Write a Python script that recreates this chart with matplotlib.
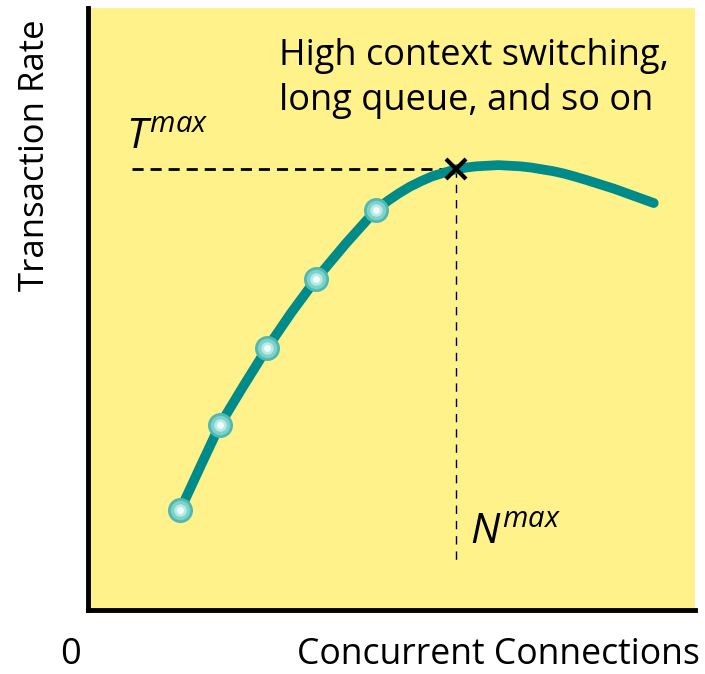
import matplotlib.pyplot as plt

# curve (x: connections, y: transaction rate, 0-100 scale)
curve_x = [15.2, 18.5, 21.7, 25.6, 29.5, 33.5, 37.6, 42.5, 47.4, 49.3, 51.2, 53.0, 54.8, 56.6, 58.5, 60.6,
           62.3, 64.0, 65.8, 67.6, 69.4, 71.2, 73.0, 74.8, 76.6, 78.4, 80.2, 82.2, 84.4, 86.6, 88.8, 91.0, 93.2]
curve_y = [16.6, 23.8, 30.7, 37.2, 43.5, 49.4, 55.0, 60.9, 66.4, 67.9, 69.2, 70.3, 71.2, 72.0, 72.6, 73.2,
           73.5, 73.7, 73.8, 73.9, 73.8, 73.7, 73.5, 73.2, 72.9, 72.5, 72.0, 71.4, 70.7, 70.0, 69.2, 68.4, 67.6]

# sampled points (markers)
pts_x = [15.2, 21.7, 29.5, 37.6, 47.4]
pts_y = [16.6, 30.7, 43.5, 55.0, 66.4]

# maximum point
n_max = 60.6
t_max = 73.2

yellow = '#fff28a'
teal = '#008b8b'

font = 'Open Sans'
plt.rcParams['mathtext.fontset'] = 'custom'
plt.rcParams['mathtext.it'] = font + ':italic'
plt.rcParams['mathtext.rm'] = font

fig = plt.figure(figsize=(7.05, 6.74), dpi=100)
ax = fig.add_axes([88 / 705, 64 / 674, 607 / 705, 602 / 674])
ax.set_facecolor(yellow)
ax.set_xlim(0, 100)
ax.set_ylim(0, 100)

ax.plot(curve_x, curve_y, color=teal, lw=7, solid_capstyle='round', solid_joinstyle='round', zorder=2)
# markers: layered circles to mimic the shaded balls
ax.plot(pts_x, pts_y, 'o', ms=18, mfc='#4fb9b1', mec='none', zorder=3)
ax.plot(pts_x, pts_y, 'o', ms=14, mfc='#7fd2ca', mec='none', zorder=4)
ax.plot(pts_x, pts_y, 'o', ms=9, mfc='#b9eae4', mec='none', zorder=5)
ax.plot(pts_x, pts_y, 'o', ms=5, mfc='#f0fdfb', mec='none', zorder=6)

# guides to the maximum
ax.plot([7.3, n_max], [t_max, t_max], color='black', lw=2, ls=(0, (4, 2.5)), zorder=1)
ax.plot([n_max, n_max], [t_max, 8.3], color='black', lw=1, ls=(0, (6, 5)), zorder=1)
ax.plot([n_max], [t_max], 'x', color='black', ms=14, mew=3, zorder=7)

ax.text(6.3, 76.5, r'$T^{max}$', fontsize=30)
ax.text(63.0, 11.0, r'$N^{max}$', fontsize=30)
ax.text(31.5, 88.3, 'High context switching,\nlong queue, and so on', fontsize=26,
        family=font, linespacing=1.32, va='center')

ax.set_xticks([])
ax.set_yticks([])
for s in ['top', 'right']:
    ax.spines[s].set_visible(False)
for s in ['left', 'bottom']:
    ax.spines[s].set_linewidth(3.5)

fig.text(70 / 705, 1 - 655 / 674, '0', fontsize=26, family=font, ha='center', va='center')
fig.text(700 / 705, 1 - 655 / 674, 'Concurrent Connections', fontsize=25.6, family=font, ha='right', va='center')
fig.text(35 / 705, 1 - 155 / 674, 'Transaction Rate', fontsize=25, family=font, rotation=90, ha='center', va='center')

fig.savefig('out.png', dpi=100)
